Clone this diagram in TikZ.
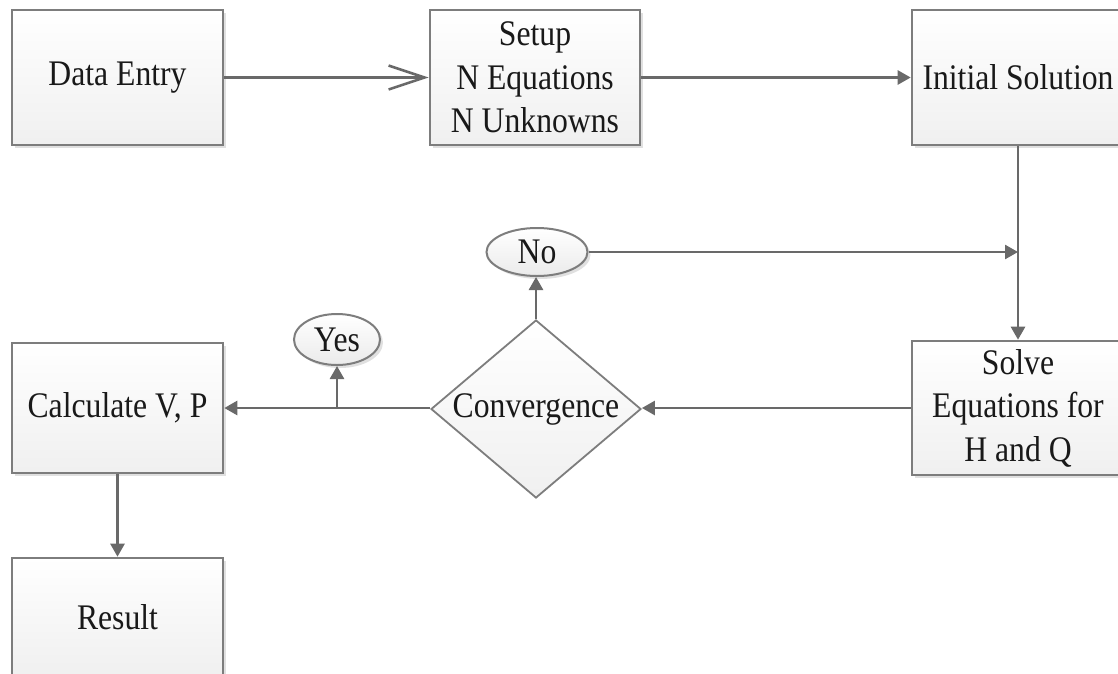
\documentclass[tikz,border=0pt]{standalone}
\usepackage{fontspec}
\setmainfont{Liberation Serif}[FakeStretch=0.88]
\usetikzlibrary{arrows.meta,shapes.geometric,shadows}
\definecolor{boxline}{RGB}{125,125,125}
\definecolor{arrowline}{RGB}{105,105,105}
\definecolor{txt}{RGB}{25,25,25}
\begin{document}
\begin{tikzpicture}[x=1pt,y=-1pt,
  font=\fontsize{36}{43.5}\selectfont,
  every node/.append style={text=txt},
  boxstyle/.style={draw=boxline, line width=2.6pt, rectangle, inner sep=0pt,
    top color=white, bottom color=black!6, align=center,
    drop shadow={shadow xshift=3pt, shadow yshift=-3pt, opacity=0.12, fill=black}},
  ovalstyle/.style={draw=boxline, line width=2pt, ellipse, inner sep=0pt,
    top color=white, bottom color=black!8, align=center,
    drop shadow={shadow xshift=3pt, shadow yshift=-3pt, opacity=0.12, fill=black}},
  diamstyle/.style={draw=boxline, line width=1.8pt, diamond, inner sep=0pt,
    shape aspect=1.18, top color=white, bottom color=black!6, align=center},
  conn/.style={draw=arrowline, line width=2.6pt, -{Triangle[length=13pt,width=14pt]}},
  openconn/.style={draw=arrowline, line width=2.6pt, -{Straight Barb[length=36pt,width=24pt,line width=2.6pt]}}
]
\useasboundingbox (0,0) rectangle (1118,673);
\clip (0,0) rectangle (1118,673);
\fill[white] (0,0) rectangle (1118,673);

\node[boxstyle, minimum width=211pt, minimum height=135pt] (data) at (117.5,77.5) {Data Entry};
\node[boxstyle, minimum width=210pt, minimum height=135pt] (setup) at (535,77.5) {Setup\\N Equations\\N Unknowns};
\node[boxstyle, minimum width=212pt, minimum height=135pt] (init) at (1018,77.5) {Initial Solution};
\node[boxstyle, minimum width=212pt, minimum height=134pt] (solve) at (1018,408) {Solve\\Equations for\\H and Q};
\node[diamstyle, minimum width=210pt, minimum height=178pt] (conv) at (536,409) {Convergence};
\node[ovalstyle, minimum width=101pt, minimum height=48pt] (no) at (537,252) {No};
\node[ovalstyle, minimum width=86pt, minimum height=51pt] (yes) at (337,339.5) {Yes};
\node[boxstyle, minimum width=211pt, minimum height=130pt] (calc) at (117.5,408) {Calculate V, P};
\node[boxstyle, minimum width=211pt, minimum height=118pt] (result) at (117.5,617) {Result};

\coordinate (join) at (init.south |- no.east);
\coordinate (split) at (yes.south |- calc.east);

\draw[conn] (init.south) -- (solve.north);
\draw[openconn] (data.east) -- (setup.west);
\draw[conn] (setup.east) -- (init.west);
\draw[conn] (no.east) -- (join);
\draw[conn] (solve.west) -- (conv.east |- solve.west);
\draw[conn] (conv.north) -- (conv.north |- no.south);
\draw[conn] (conv.west |- calc.east) -- (calc.east);
\draw[conn] (split) -- (yes.south);
\draw[conn] (calc.south) -- (result.north);
\end{tikzpicture}
\end{document}
